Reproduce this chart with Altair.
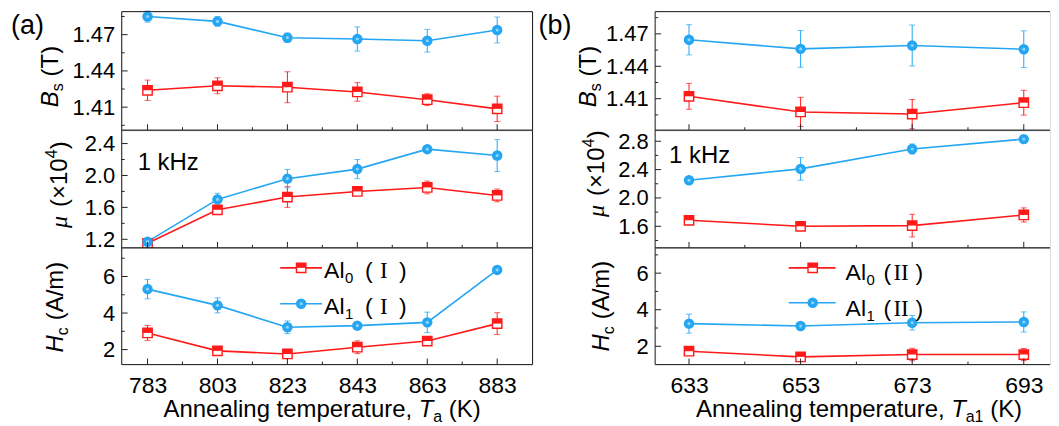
import altair as alt
import pandas as pd

FONT = "Liberation Sans"
SERIF = "Liberation Serif"
RED = "#ff1a1a"
BLUE = "#25a6f2"
AX = "#222222"

# ---------------- panel (a) data ----------------
temp_a = [783, 803, 823, 843, 863, 883]
bs0_a = [1.424, 1.4277, 1.4265, 1.4226, 1.4162, 1.4086]
bs0_a_err = [0.0084, 0.0066, 0.0128, 0.0077, 0.0049, 0.0105]
bs1_a = [1.485, 1.481, 1.4675, 1.4664, 1.465, 1.4739]
bs1_a_err = [0.0046, 0.004, 0.0038, 0.010, 0.0094, 0.0107]
mu0_a = [1.15, 1.57, 1.73, 1.80, 1.85, 1.75]
mu0_a_err = [0.02, 0.06, 0.13, 0.03, 0.08, 0.08]
mu1_a = [1.17, 1.70, 1.96, 2.08, 2.33, 2.25]
mu1_a_err = [0.02, 0.077, 0.115, 0.12, 0.03, 0.2]
hc0_a = [2.91, 1.93, 1.76, 2.13, 2.47, 3.42]
hc0_a_err = [0.41, 0.1, 0.08, 0.35, 0.1, 0.6]
hc1_a = [5.31, 4.42, 3.22, 3.31, 3.49, 6.36]
hc1_a_err = [0.53, 0.41, 0.35, 0.1, 0.56, 0.1]

# ---------------- panel (b) data ----------------
temp_b = [633, 653, 673, 693]
bs0_b = [1.4122, 1.3977, 1.3958, 1.4063]
bs0_b_err = [0.012, 0.0135, 0.0135, 0.0115]
bs1_b = [1.4645, 1.4561, 1.4592, 1.4558]
bs1_b_err = [0.014, 0.017, 0.019, 0.017]
mu0_b = [1.685, 1.60, 1.61, 1.76]
mu0_b_err = [0.03, 0.04, 0.16, 0.1]
mu1_b = [2.25, 2.41, 2.69, 2.83]
mu1_b_err = [0.04, 0.16, 0.07, 0.02]
hc0_b = [1.73, 1.42, 1.55, 1.55]
hc0_b_err = [0.1, 0.08, 0.34, 0.33]
hc1_b = [3.24, 3.11, 3.29, 3.33]
hc1_b_err = [0.52, 0.08, 0.4, 0.55]

# ---------------- ticks ----------------
xt_a = [783, 803, 823, 843, 863, 883]
xm_a = [793, 813, 833, 853, 873]
xt_b = [633, 653, 673, 693]
xm_b = [643, 663, 683]
bs_t = [1.41, 1.44, 1.47]
bs_m = [1.395, 1.425, 1.455, 1.485]
mu_t_a = [1.2, 1.6, 2.0, 2.4]
mu_m_a = [1.4, 1.8, 2.2]
mu_t_b = [1.6, 2.0, 2.4, 2.8]
mu_m_b = [1.4, 1.8, 2.2, 2.6]
hc_t = [2, 4, 6]
hc_m = [3, 5, 7]

ONE = pd.DataFrame({"k": [0]})
HALF_SQ = "M-1,-1L1,-1L1,0L-1,0Z"


def make_df(x, v, e):
    return pd.DataFrame({
        "x": x, "v": v,
        "lo": [a - b for a, b in zip(v, e)],
        "hi": [a + b for a, b in zip(v, e)],
    })


def txt(s, x, y, size=24, style="normal", family=FONT, angle=0, dx=0, dy=0, align="left",
        baseline="alphabetic"):
    kw = dict(text=s, font=family, fontSize=size, fontStyle=style, align=align,
              baseline=baseline, dx=dx, dy=dy, color="black")
    if angle:
        kw["angle"] = angle
    return alt.Chart(ONE).mark_text(**kw).encode(x=alt.value(x), y=alt.value(y))


def hrule(x1, x2, y, color=AX, sw=1):
    return alt.Chart(ONE).mark_rule(color=color, strokeWidth=sw).encode(
        x=alt.value(x1), x2=alt.value(x2), y=alt.value(y))


def vrule(x, y1, y2, color=AX, sw=1):
    return alt.Chart(ONE).mark_rule(color=color, strokeWidth=sw).encode(
        x=alt.value(x), y=alt.value(y1), y2=alt.value(y2))


def red_marker_layers(data, enc):
    a = alt.Chart(data).mark_point(shape="square", filled=True, fill="white", stroke=RED,
                                   strokeWidth=1.4, size=88, opacity=1).encode(**enc)
    b = alt.Chart(data).mark_point(shape=HALF_SQ, filled=True, color=RED, size=88,
                                   opacity=1).encode(**enc)
    return [a, b]


def blue_marker_layers(data, enc):
    a = alt.Chart(data).mark_point(shape="circle", filled=True, color=BLUE, size=110,
                                   opacity=1).encode(**enc)
    b = alt.Chart(data).mark_point(shape="circle", filled=True, color="#8fd3fa", size=10,
                                   opacity=1).encode(**enc)
    return [a, b]


def panel(x, s0, e0, s1, e1, xdom, ydom, yt, ym, yfmt, xt, xm, w, h, bottom, right_border, extras):
    xs = alt.Scale(domain=xdom, nice=False, zero=False)
    ys = alt.Scale(domain=ydom, nice=False, zero=False)
    if bottom:
        xax = alt.Axis(values=xt, format="d", labelFont=FONT, labelFontSize=23, labelColor="black",
                       labelPadding=10, ticks=False, domain=False, grid=False, labelFlush=False)
    else:
        xax = alt.Axis(labels=False, ticks=False, domain=False, grid=False)
    yax = alt.Axis(values=yt, format=yfmt, labelFont=FONT, labelFontSize=22, labelColor="black",
                   labelPadding=7, ticks=False, domain=False, grid=False, labelFlush=False)

    def X(f):
        return alt.X(f"{f}:Q", scale=xs, axis=xax, title=None)

    def Y(f):
        return alt.Y(f"{f}:Q", scale=ys, axis=yax, title=None)

    d0 = make_df(x, s0, e0)
    d1 = make_df(x, s1, e1)
    layers = []
    for d, col in ((d0, RED), (d1, BLUE)):
        layers.append(alt.Chart(d).mark_line(color=col, strokeWidth=1.6).encode(x=X("x"), y=Y("v")))
    for d, col in ((d0, RED), (d1, BLUE)):
        layers.append(alt.Chart(d).mark_rule(color=col, strokeWidth=1).encode(
            x=X("x"), y=Y("lo"), y2=alt.Y2("hi")))
        for f in ("lo", "hi"):
            layers.append(alt.Chart(d).mark_tick(color=col, orient="horizontal", size=6,
                                                 thickness=1).encode(x=X("x"), y=Y(f)))
    layers += red_marker_layers(d0, dict(x=X("x"), y=Y("v")))
    layers += blue_marker_layers(d1, dict(x=X("x"), y=Y("v")))

    # inward ticks
    layers.append(alt.Chart(pd.DataFrame({"x": xt})).mark_rule(color=AX, strokeWidth=1).encode(
        x=X("x"), y=alt.value(h), y2=alt.value(h - 6)))
    layers.append(alt.Chart(pd.DataFrame({"x": xm})).mark_rule(color=AX, strokeWidth=1).encode(
        x=X("x"), y=alt.value(h), y2=alt.value(h - 3)))
    layers.append(alt.Chart(pd.DataFrame({"v": yt})).mark_rule(color=AX, strokeWidth=1).encode(
        y=Y("v"), x=alt.value(0), x2=alt.value(6)))
    layers.append(alt.Chart(pd.DataFrame({"v": ym})).mark_rule(color=AX, strokeWidth=1).encode(
        y=Y("v"), x=alt.value(0), x2=alt.value(3)))

    # frame
    layers.append(hrule(0, w, 0))
    layers.append(hrule(0, w, h))
    layers.append(vrule(0, 0, h))
    if right_border:
        layers.append(vrule(w, 0, h))
    layers += extras
    return alt.layer(*layers).properties(width=w, height=h)


def ytitle_bs(bx, by):
    return [txt("B", bx, by, style="italic", angle=270),
            txt("s", bx, by, size=16, angle=270, dx=16, dy=5),
            txt("(T)", bx, by, angle=270, dx=31)]


def ytitle_mu(bx, by):
    return [txt("μ", bx, by, style="italic", family=SERIF, angle=270),
            txt("(×10", bx, by, angle=270, dx=21),
            txt("4", bx, by, size=16, angle=270, dx=70, dy=-10),
            txt(")", bx, by, angle=270, dx=79)]


def ytitle_hc(bx, by):
    return [txt("H", bx, by, style="italic", angle=270),
            txt("c", bx, by, size=16, angle=270, dx=17.5, dy=5),
            txt("(A/m)", bx, by, angle=270, dx=32.5)]


def xtitle(x0, y0, sub):
    base = 256
    return [txt("Annealing temperature,", x0, y0),
            txt("T", x0, y0, style="italic", dx=base),
            txt(sub, x0, y0, size=16, dx=base + 14.5, dy=5),
            txt("(K)", x0, y0, dx=base + 14.5 + 8.9 * len(sub) + 6.7)]


def legend(lx1, lx2, mx, ys, tx, tys, numeral, offs):
    out = []
    for i, (col, sub) in enumerate(((RED, "0"), (BLUE, "1"))):
        out.append(hrule(lx1, lx2, ys[i], color=col, sw=1.6))
        enc = dict(x=alt.value(mx), y=alt.value(ys[i]))
        out += red_marker_layers(ONE, enc) if i == 0 else blue_marker_layers(ONE, enc)
        out.append(txt("Al", tx, tys[i], size=23))
        out.append(txt(sub, tx, tys[i], size=15, dx=21, dy=5))
        out.append(txt("(", tx, tys[i], size=23, dx=offs[0]))
        out.append(txt(numeral, tx, tys[i], size=23, family=SERIF, dx=offs[1]))
        out.append(txt(")", tx, tys[i], size=23, dx=offs[2]))
    return out


WA, WB = 412, 396
H1, H2, H3 = 119, 118, 117
XDOM_A = [775.6, 893.1]
XDOM_B = [626.93, 697.7]

bsA = panel(temp_a, bs0_a, bs0_a_err, bs1_a, bs1_a_err, XDOM_A, [1.3909, 1.4891], bs_t, bs_m, ".2f",
            xt_a, xm_a, WA, H1, False, True,
            [txt("(a)", -111, 1, size=27, baseline="top")] + ytitle_bs(-64, 96))
muA = panel(temp_a, mu0_a, mu0_a_err, mu1_a, mu1_a_err, XDOM_A, [1.092, 2.567], mu_t_a, mu_m_a, ".1f",
            xt_a, xm_a, WA, H2, False, True,
            [txt("1 kHz", 16, 40)] + ytitle_mu(-55, 98))
hcA = panel(temp_a, hc0_a, hc0_a_err, hc1_a, hc1_a_err, XDOM_A, [1.18, 7.564], hc_t, hc_m, "d",
            xt_a, xm_a, WA, H3, True, True,
            ytitle_hc(-59, 105) + xtitle(42, 170, "a")
            + legend(159, 201, 180, [20, 56], 203, [30, 66], "I", [41, 56, 75]))

bsB = panel(temp_b, bs0_b, bs0_b_err, bs1_b, bs1_b_err, XDOM_B, [1.3808, 1.4906], bs_t, bs_m, ".2f",
            xt_b, xm_b, WB, H1, False, False,
            [txt("(b)", -117, 1, size=27, baseline="top")] + ytitle_bs(-59, 96))
muB = panel(temp_b, mu0_b, mu0_b_err, mu1_b, mu1_b_err, XDOM_B, [1.295, 2.955], mu_t_b, mu_m_b, ".1f",
            xt_b, xm_b, WB, H2, False, False,
            [txt("1 kHz", 14, 33)] + ytitle_mu(-51, 87))
hcB = panel(temp_b, hc0_b, hc0_b_err, hc1_b, hc1_b_err, XDOM_B, [1.0, 7.38], hc_t, hc_m, "d",
            xt_b, xm_b, WB, H3, True, False,
            ytitle_hc(-46, 104) + xtitle(41, 170, "a1")
            + legend(134, 181, 158, [20, 55], 191, [32, 68], "II", [38, 48, 70]))

colA = alt.vconcat(bsA, muA, hcA, spacing=0, bounds="flush")
colB = alt.vconcat(bsB, muB, hcB, spacing=0, bounds="flush")

chart = alt.hconcat(colA, colB, spacing=4).properties(
    padding={"left": 2, "top": 1, "right": 0, "bottom": 0}
).configure_view(stroke="transparent").configure(background="white")

chart.save("out.html", embed_options={"renderer": "svg", "actions": False})
